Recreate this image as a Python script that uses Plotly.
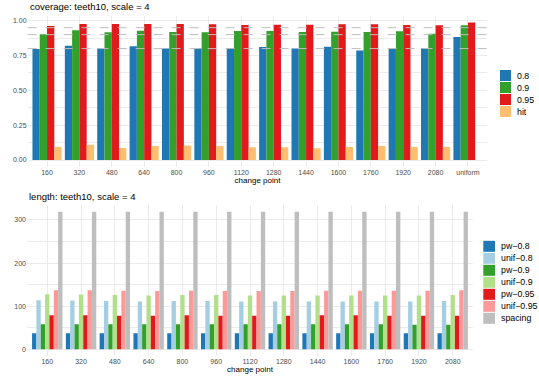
import plotly.graph_objects as go

# ---------------- data ----------------
cov_categories = ["160", "320", "480", "640", "800", "960", "1120", "1280",
                  "1440", "1600", "1760", "1920", "2080", "uniform"]
cov_08 = [0.797, 0.820, 0.800, 0.816, 0.800, 0.800, 0.804, 0.811, 0.800, 0.813, 0.787, 0.800, 0.800, 0.883]
cov_09 = [0.902, 0.931, 0.917, 0.928, 0.919, 0.917, 0.926, 0.926, 0.919, 0.921, 0.919, 0.924, 0.907, 0.967]
cov_095 = [0.962, 0.976, 0.976, 0.976, 0.976, 0.974, 0.969, 0.971, 0.971, 0.974, 0.974, 0.969, 0.967, 0.988]
cov_hit = [0.093, 0.110, 0.086, 0.100, 0.105, 0.100, 0.091, 0.091, 0.084, 0.093, 0.100, 0.093, 0.093, None]
cov_names = ["0.8", "0.9", "0.95", "hit"]
cov_colors = ["#1F78B4", "#33A02C", "#E31A1C", "#FDBF6F"]
nominal_levels = [0.8, 0.9, 0.95]

len_categories = ["160", "320", "480", "640", "800", "960", "1120", "1280",
                  "1440", "1600", "1760", "1920", "2080"]
len_pw_08 = [37, 37, 37, 37, 37, 37, 37, 37, 37, 37, 37, 37, 37]
len_unif_08 = [114, 113, 112, 111, 112, 112, 111, 111, 111, 111, 111, 111, 112]
len_pw_09 = [58, 58, 58, 58, 58, 58, 58, 58, 58, 58, 58, 57, 57]
len_unif_09 = [128, 127, 126, 125, 126, 126, 125, 125, 125, 125, 125, 125, 126]
len_pw_095 = [79, 79, 78, 78, 79, 78, 78, 78, 79, 79, 78, 78, 78]
len_unif_095 = [137, 137, 136, 135, 136, 135, 135, 135, 136, 136, 136, 136, 137]
len_spacing = [319, 319, 319, 319, 319, 319, 319, 319, 319, 319, 319, 319, 319]
len_names = ["pw−0.8", "unif−0.8", "pw−0.9", "unif−0.9", "pw−0.95", "unif−0.95", "spacing"]
len_colors = ["#1F78B4", "#A6CEE3", "#33A02C", "#B2DF8A", "#E31A1C", "#FB9A99", "#BEBEBE"]

# ---------------- figure ----------------
W, H = 539, 378
FONT = "Liberation Sans, Arial, sans-serif"
GRID = "#EBEBEB"
TICK = "#4D4D4D"

fig = go.Figure()

cov_series = [cov_08, cov_09, cov_095, cov_hit]
for name, vals, col in zip(cov_names, cov_series, cov_colors):
    fig.add_trace(go.Bar(x=cov_categories, y=vals, name=name, marker_color=col,
                         marker_line_width=0, xaxis="x", yaxis="y", showlegend=False))

len_series = [len_pw_08, len_unif_08, len_pw_09, len_unif_09, len_pw_095, len_unif_095, len_spacing]
for name, vals, col in zip(len_names, len_series, len_colors):
    fig.add_trace(go.Bar(x=len_categories, y=vals, name=name, marker_color=col,
                         marker_line_width=0, xaxis="x2", yaxis="y2", showlegend=False))

def px_x(v):
    return v / W

def px_y(v):
    return 1 - v / H

cov_max = max(cov_095)
cov_pad = 0.05 * cov_max
len_max = max(len_spacing)
len_pad = 0.05 * len_max

axis_common = dict(showline=False, zeroline=False, ticks="", showgrid=True,
                   gridcolor=GRID, gridwidth=1,
                   tickfont=dict(family=FONT, size=7, color=TICK))

fig.update_layout(
    width=W, height=H,
    margin=dict(l=0, r=0, t=0, b=0),
    paper_bgcolor="white", plot_bgcolor="white",
    barmode="group", bargap=0.1, bargroupgap=0,
    showlegend=False,
    font=dict(family=FONT),
    xaxis=dict(axis_common, type="category", domain=[px_x(27.6), px_x(487.4)],
               range=[-0.6, len(cov_categories) - 0.4], anchor="y",
               title=dict(text="change point", font=dict(family=FONT, size=8, color="black"),
                          standoff=2)),
    yaxis=dict(axis_common, domain=[px_y(166.9), px_y(15.5)],
               range=[-cov_pad, cov_max + cov_pad], anchor="x",
               tickmode="linear", tick0=0, dtick=0.25, tickformat=".2f",
               minor=dict(showgrid=True, dtick=0.125, gridcolor=GRID, gridwidth=0.5)),
    xaxis2=dict(axis_common, type="category", domain=[px_x(27.0), px_x(473.0)],
                range=[-0.6, len(len_categories) - 0.4], anchor="y2",
                title=dict(text="change point", font=dict(family=FONT, size=8, color="black"),
                           standoff=2)),
    yaxis2=dict(axis_common, domain=[px_y(356.2), px_y(204.9)],
                range=[-len_pad, len_max + len_pad], anchor="x2",
                tickmode="linear", tick0=0, dtick=100,
                minor=dict(showgrid=True, dtick=50, gridcolor=GRID, gridwidth=0.5)),
)

# nominal level reference lines
for lvl in nominal_levels:
    fig.add_shape(type="line", xref="x domain", yref="y", x0=0, x1=1, y0=lvl, y1=lvl,
                  line=dict(color="#BDBDBD", width=1, dash="dash"), layer="above")

# panel titles
fig.add_annotation(text="coverage: teeth10, scale = 4", xref="paper", yref="paper",
                   x=px_x(27.5), y=px_y(7), xanchor="left", yanchor="middle",
                   showarrow=False, font=dict(family=FONT, size=9.5, color="black"))
fig.add_annotation(text="length: teeth10, scale = 4", xref="paper", yref="paper",
                   x=px_x(26.5), y=px_y(196), xanchor="left", yanchor="middle",
                   showarrow=False, font=dict(family=FONT, size=9.5, color="black"))

# legends (keys + labels)
def draw_legend(names, colors, x0, x1, y_first, step, label_x):
    for i, (nm, col) in enumerate(zip(names, colors)):
        yc = y_first + i * step
        fig.add_shape(type="rect", xref="paper", yref="paper",
                      x0=px_x(x0), x1=px_x(x1), y0=px_y(yc - 5.5), y1=px_y(yc + 5.5),
                      fillcolor=col, line=dict(width=0))
        fig.add_annotation(text=nm, xref="paper", yref="paper", x=px_x(label_x), y=px_y(yc),
                           xanchor="left", yanchor="middle", showarrow=False,
                           font=dict(family=FONT, size=8.8, color="black"))

draw_legend(cov_names, cov_colors, 500, 511, 75.5, 12, 514.5)
draw_legend(len_names, len_colors, 483.3, 495, 246.3, 12, 498.5)

fig.write_html("out.html", config={"displayModeBar": False},
               post_script="document.body.style.margin='0';document.body.style.overflow='hidden';")
